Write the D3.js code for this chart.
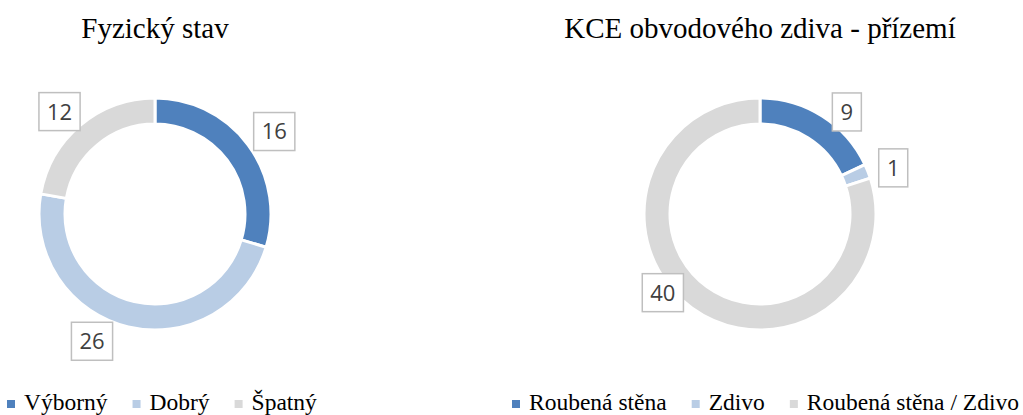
<!DOCTYPE html>
<html>
<head>
<meta charset="utf-8">
<script src="https://cdn.jsdelivr.net/npm/d3@7"></script>
<style>
  body { margin: 0; background: #fff; }
  svg { display: block; }
</style>
</head>
<body>
<div id="chart"></div>
<script>
// data
var stavCategories = ["Výborný", "Dobrý", "Špatný"];
var stavValues = [16, 26, 12];

var kceCategories = ["Roubená stěna", "Zdivo", "Roubená stěna / Zdivo"];
var kceValues = [9, 1, 40];

var colors = ["#4f81bd", "#b9cde5", "#d9d9d9"];

var svgWidth = 1023;
var svgHeight = 415;

var outerR = 116;
var innerR = 90;

var svg = d3.select("#chart")
  .append("svg")
  .attr("width", svgWidth)
  .attr("height", svgHeight);

var charts = [
  {
    title: "Fyzický stav",
    categories: stavCategories,
    values: stavValues,
    cx: 155,
    legendX: 7,
    // label placement: angle shift (deg) from slice middle, distance from centre
    labelShift: [2, 13, -3],
    labelDist: [145, 142, 140]
  },
  {
    title: "KCE obvodového zdiva - přízemí",
    categories: kceCategories,
    values: kceValues,
    cx: 760,
    legendX: 512,
    labelShift: [8, 2.5, 15],
    labelDist: [134, 141, 125]
  }
];

var cy = 214;

var pie = d3.pie().sort(null).value((d) => d);
var arc = d3.arc().innerRadius(innerR).outerRadius(outerR);

charts.forEach(function (c) {
  var g = svg.append("g");

  g.append("text")
    .attr("x", c.cx)
    .attr("y", 38)
    .attr("text-anchor", "middle")
    .attr("font-family", "'Liberation Serif', 'Times New Roman', serif")
    .attr("font-size", "29px")
    .attr("fill", "#000")
    .text(c.title);

  var donut = g.append("g")
    .attr("transform", `translate(${c.cx}, ${cy})`);

  var arcs = pie(c.values);

  donut.selectAll("path")
    .data(arcs)
    .enter()
    .append("path")
    .attr("d", arc)
    .attr("fill", (d, i) => colors[i])
    .attr("stroke", "#fff")
    .attr("stroke-width", 3);

  // data labels in boxes
  var labels = donut.selectAll("g.lbl")
    .data(arcs)
    .enter()
    .append("g")
    .attr("class", "lbl")
    .attr("transform", function (d, i) {
      var a = (d.startAngle + d.endAngle) / 2 + c.labelShift[i] * Math.PI / 180;
      var r = c.labelDist[i];
      return `translate(${r * Math.sin(a)}, ${-r * Math.cos(a)})`;
    });

  var rects = labels.append("rect");

  var texts = labels.append("text")
    .attr("text-anchor", "middle")
    .attr("dy", "0.36em")
    .attr("font-family", "'Open Sans', sans-serif")
    .attr("font-size", "22px")
    .attr("fill", "#404040")
    .text((d) => d.data);

  texts.each(function (d, i) {
    var w = Math.max(29, this.getComputedTextLength() + 16);
    d3.select(rects.nodes()[i])
      .attr("x", -w / 2)
      .attr("y", -19)
      .attr("width", w)
      .attr("height", 38)
      .attr("fill", "#fff")
      .attr("stroke", "#bfbfbf")
      .attr("stroke-width", 1.5);
  });

  // legend
  var x = c.legendX;
  c.categories.forEach(function (name, i) {
    g.append("rect")
      .attr("x", x)
      .attr("y", 400)
      .attr("width", 8)
      .attr("height", 8)
      .attr("fill", colors[i]);

    var t = g.append("text")
      .attr("x", x + 17)
      .attr("y", 410)
      .attr("font-family", "'Liberation Serif', 'Times New Roman', serif")
      .attr("font-size", "23.5px")
      .attr("fill", "#000")
      .text(name);

    x += 17 + t.node().getComputedTextLength() + 25;
  });
});
</script>
</body>
</html>
